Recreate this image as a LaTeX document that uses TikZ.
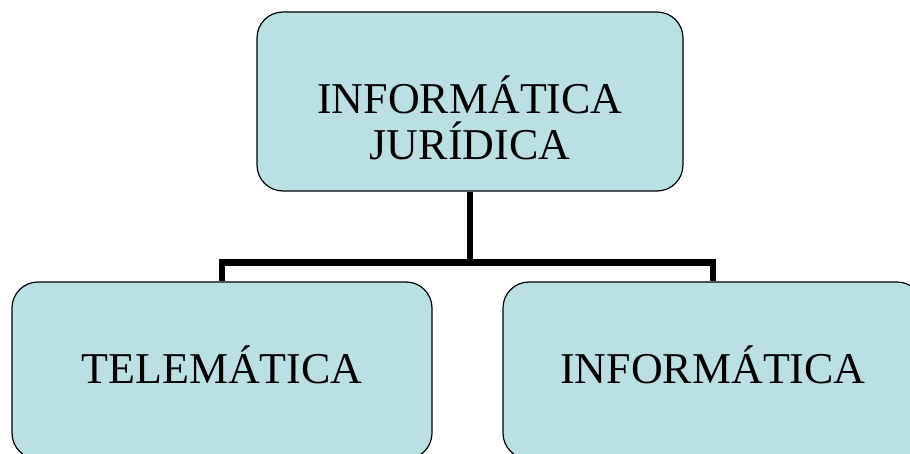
\documentclass[tikz,border=0pt]{standalone}
\usepackage{fontspec}
\setmainfont{Liberation Serif}
\usetikzlibrary{positioning}
\definecolor{boxblue}{RGB}{187,224,228}
\tikzset{
  % rounded boxes of the chart
  chartbox/.style={draw=black, line width=1.2pt, fill=boxblue, rounded corners=26pt,
    inner sep=0pt, font=\fontsize{44}{46}\selectfont, align=center},
  % lower boxes: baseline fixed inside the box
  leafbox/.style={chartbox, minimum width=420pt, text height=101pt, text depth=76pt},
  % thick black connectors
  link/.style={line width=6.8pt, black},
}

\begin{document}
\begin{tikzpicture}[x=1pt, y=1pt]
  \useasboundingbox (0,0) rectangle (910,-454);
  \node[chartbox, minimum width=426pt, text height=148pt, text depth=31pt] (jur) at (470,-101.5) {INFORMÁTICA\\JURÍDICA};
  \node[leafbox] (tele) at (222,-370.5) {TELEMÁTICA};
  \node[leafbox] (info) at (713,-370.5) {INFORMÁTICA};

  \coordinate (split) at ([yshift=-71pt]jur.south);
  \draw[link] (jur.south) -- (split) -| (tele.north);
  \draw[link] (split) -| (info.north);
\end{tikzpicture}
\end{document}
